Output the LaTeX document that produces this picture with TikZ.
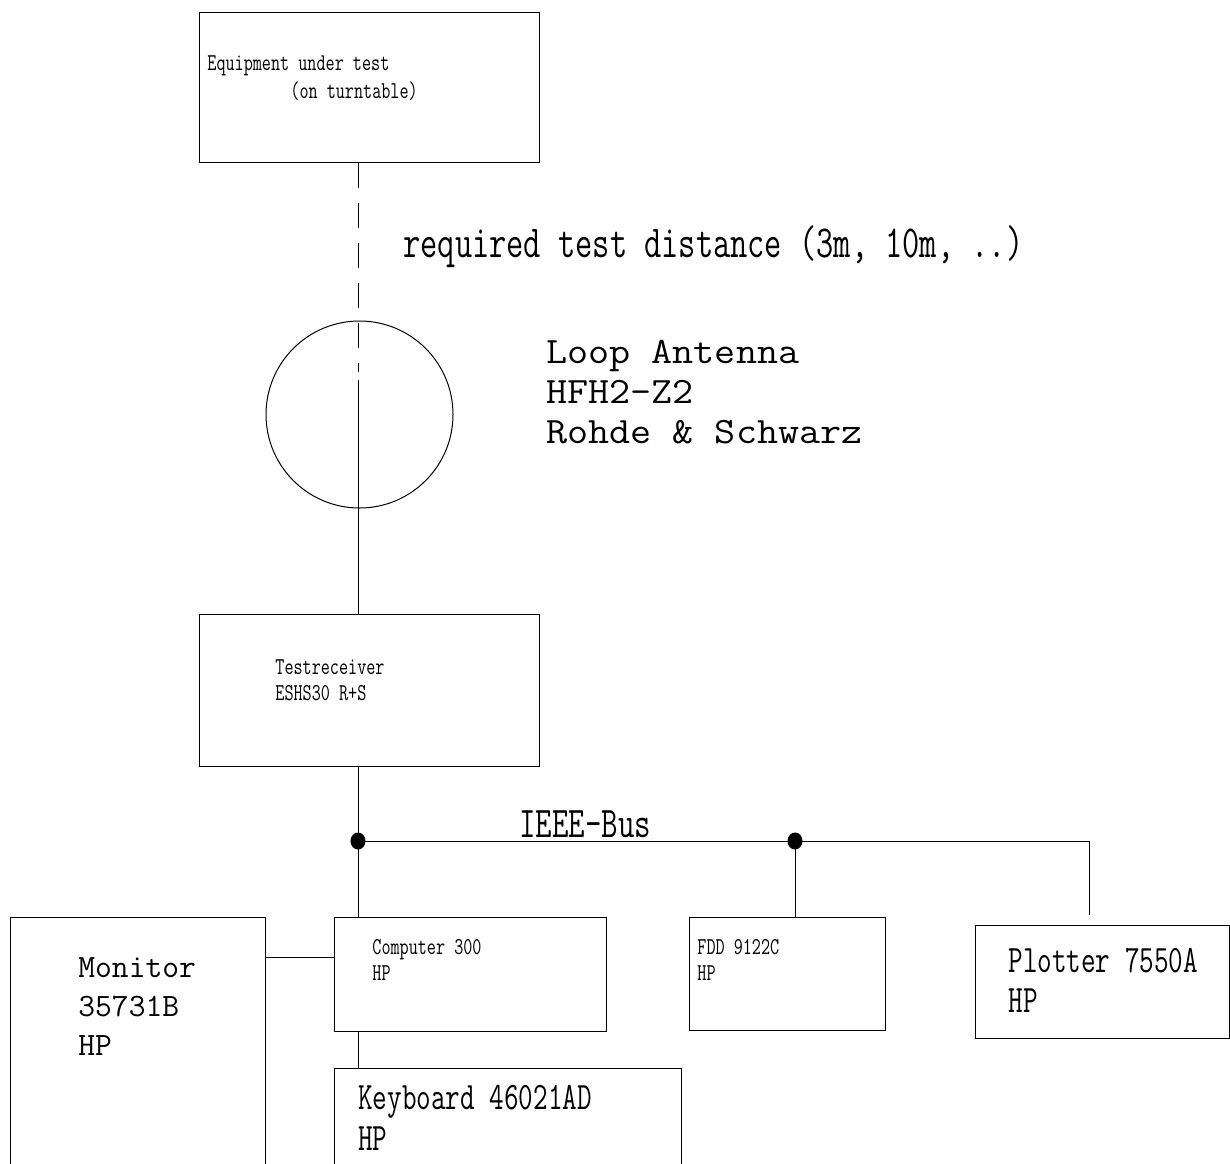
\documentclass[tikz,border=0pt]{standalone}
\usepackage{fontspec}
\newfontfamily\typefont[FakeStretch=0.73]{Latin Modern Mono}
\newfontfamily\normfont{Latin Modern Mono}
\newfontfamily\widefont[FakeStretch=1.1]{Latin Modern Mono}
\usetikzlibrary{positioning}

\tikzset{
  unit/.style={draw,rectangle,inner sep=0pt,anchor=north west,line width=0.7pt},
  label/.style={anchor=base west,inner sep=0pt,align=left},
  tinytext/.style={font=\typefont\fontsize{12.1}{13}\selectfont},
  midtext/.style={font=\typefont\fontsize{19.4}{20}\selectfont},
  bigtext/.style={font=\normfont\fontsize{16.3}{19.5}\selectfont},
  disttext/.style={font=\typefont\fontsize{22.9}{20}\selectfont},
  hugetext/.style={font=\widefont\fontsize{18.6}{20}\selectfont},
  wire/.style={line width=0.5pt},
  gap/.style={wire,dash pattern=on 12.5pt off 7.5pt}
}

\begin{document}
\begin{tikzpicture}[x=0.5pt,y=-0.5pt]
\useasboundingbox (0,0) rectangle (1230,1163);
\clip (0,0) rectangle (1230,1163);

% units
\node[unit,minimum width=170pt,minimum height=75pt] (eut) at (199,12) {};
\node[draw,circle,inner sep=0pt,minimum size=93.5pt,line width=0.5pt] (loop) at (359.5,414.5) {};
\node[unit,minimum width=170pt,minimum height=76pt] (rx) at (199,614) {};
\node[unit,minimum width=136pt,minimum height=57pt] (comp) at (334,917) {};
\node[unit,minimum width=98pt,minimum height=56.5pt] (fdd) at (689,917) {};
\node[unit,minimum width=127pt,minimum height=56.5pt] (plt) at (975,925) {};
\node[unit,minimum width=127.5pt,minimum height=150pt] (mon) at (10,917) {};
\node[unit,minimum width=173.5pt,minimum height=80pt] (kbd) at (334,1068) {};

% texts (base = last line)
\node[label,tinytext] (euttext) at (207,98) {Equipment under test\\[1pt]\hspace*{41.5pt}(on turntable)};
\node[label,disttext] (dist) at (403,257) {required test distance (3m, 10m, ..)};
\node[label,hugetext] (looptext) at (546,443) {Loop Antenna\\HFH2-Z2\\Rohde \& Schwarz};
\node[label,tinytext] (rxtext) at (275,700) {Testreceiver\\ESHS30 R+S};
\node[label,disttext,font=\typefont\fontsize{21.9}{20}\selectfont] (bus) at (519,837) {IEEE-Bus};
\node[label,tinytext] (comptext) at (372,980) {Computer 300\\HP};
\node[label,tinytext] (fddtext) at (697,980) {FDD 9122C\\HP};
\node[label,midtext] (plttext) at (1008,1012) {Plotter 7550A\\HP};
\node[label,bigtext] (montext) at (78,1055) {Monitor\\35731B\\HP};
\node[label,midtext,font=\typefont\fontsize{19.4}{20.5}\selectfont] (kbdtext) at (358,1150) {Keyboard 46021AD\\HP};

% connections
\coordinate (dend) at (358,372);
\coordinate (sbeg) at (358,380);
\coordinate (busl) at (358,841);
\coordinate (busr) at (795,841);
\coordinate (pltend) at (1089,915);
\coordinate (montap) at (265,957);

\draw[gap] (eut.south -| dend) -- (dend);
\draw[wire] (sbeg) -- (sbeg |- rx.north);
\draw[wire] (rx.south -| busl) -- (busl |- comp.north);
\draw[wire] (busl) -- (busl -| pltend) -- (pltend);
\draw[wire] (busr) -- (busr |- fdd.north);
\draw[wire] (montap) -- (montap -| comp.west);
\draw[wire] (comp.south -| busl) -- (busl |- kbd.north);
\fill (busl) circle[x radius=7.5,y radius=8.5];
\fill (busr) circle[x radius=7.5,y radius=8.5];

\end{tikzpicture}
\end{document}
